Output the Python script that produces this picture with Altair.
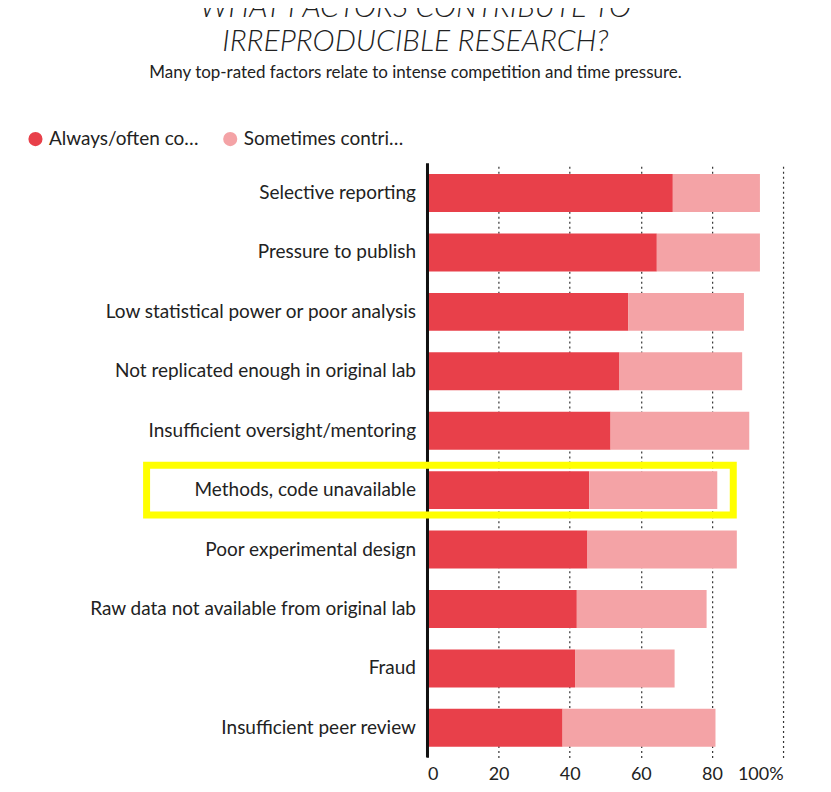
import altair as alt
import pandas as pd

factors = ["Selective reporting", "Pressure to publish", "Low statistical power or poor analysis",
           "Not replicated enough in original lab", "Insufficient oversight/mentoring",
           "Methods, code unavailable", "Poor experimental design",
           "Raw data not available from original lab", "Fraud", "Insufficient peer review"]
always = [69, 64.5, 56.5, 54, 51.5, 45.5, 45, 42, 41.5, 38]
total = [93.5, 93.5, 89, 88.5, 90.5, 81.5, 87, 78.5, 69.5, 81]
highlight = "Methods, code unavailable"
box_start, box_end = -79, 86

rows = []
for f, a, t in zip(factors, always, total):
    rows.append({"factor": f, "kind": "Always/often contribute", "v": a, "o": 0})
    rows.append({"factor": f, "kind": "Sometimes contribute", "v": t - a, "o": 1})
df = pd.DataFrame(rows)

font = "Lato"
ysort = factors

bars = alt.Chart(df).mark_bar(size=38).encode(
    y=alt.Y("factor:N", sort=ysort, title=None,
            axis=alt.Axis(labelFontSize=19, labelColor="#222", labelPadding=12, ticks=False,
                          domain=False, labelFont=font, labelLimit=400)),
    x=alt.X("v:Q", stack="zero", scale=alt.Scale(domain=[0, 100]), title=None,
            axis=alt.Axis(values=[0, 20, 40, 60, 80, 100], labelFontSize=18, labelFont=font,
                          labelColor="#222", labelExpr="datum.value == 100 ? '100%' : datum.label",
                          grid=True, gridDash=[2, 3], gridColor="#333", gridWidth=1.2,
                          domain=False, ticks=False, labelPadding=8)),
    color=alt.Color("kind:N", scale=alt.Scale(domain=["Always/often contribute", "Sometimes contribute"],
                                              range=["#e8404a", "#f4a3a6"]),
                    legend=alt.Legend(title=None, orient="none", legendX=-402, legendY=-34,
                                      direction="horizontal", symbolType="circle", symbolSize=200,
                                      labelFontSize=19, labelFont=font, labelColor="#222",
                                      columnPadding=22, symbolOpacity=1)),
    order="o:Q",
)

zero = alt.Chart(pd.DataFrame({"x": [0]})).mark_rule(color="#111", strokeWidth=3).encode(x="x:Q")

box = alt.Chart(pd.DataFrame({"factor": [highlight], "x1": [box_start], "x2": [box_end]})).mark_bar(
    size=50, fill=None, stroke="#ffff00", strokeWidth=7, clip=False).encode(
    y=alt.Y("factor:N", sort=ysort), x="x1:Q", x2="x2:Q")

chart = (bars + zero + box).properties(
    width=356, height=595,
    autosize=alt.AutoSizeParams(type="none"),
    padding={"left": 420, "top": 155, "right": 40, "bottom": 30},
    title=alt.TitleParams(["WHAT FACTORS CONTRIBUTE TO", "IRREPRODUCIBLE RESEARCH?"],
                          subtitle="Many top-rated factors relate to intense competition and time pressure.",
                          anchor="middle", frame="group", dx=-190, offset=48,
                          font=font, fontSize=30, fontStyle="italic", fontWeight=300,
                          color="#222", lineHeight=34, subtitleFont=font, subtitleFontSize=17,
                          subtitleColor="#222", subtitlePadding=8),
).configure_view(stroke=None)

chart.save("out.html", embed_options={"renderer": "svg", "actions": False})
